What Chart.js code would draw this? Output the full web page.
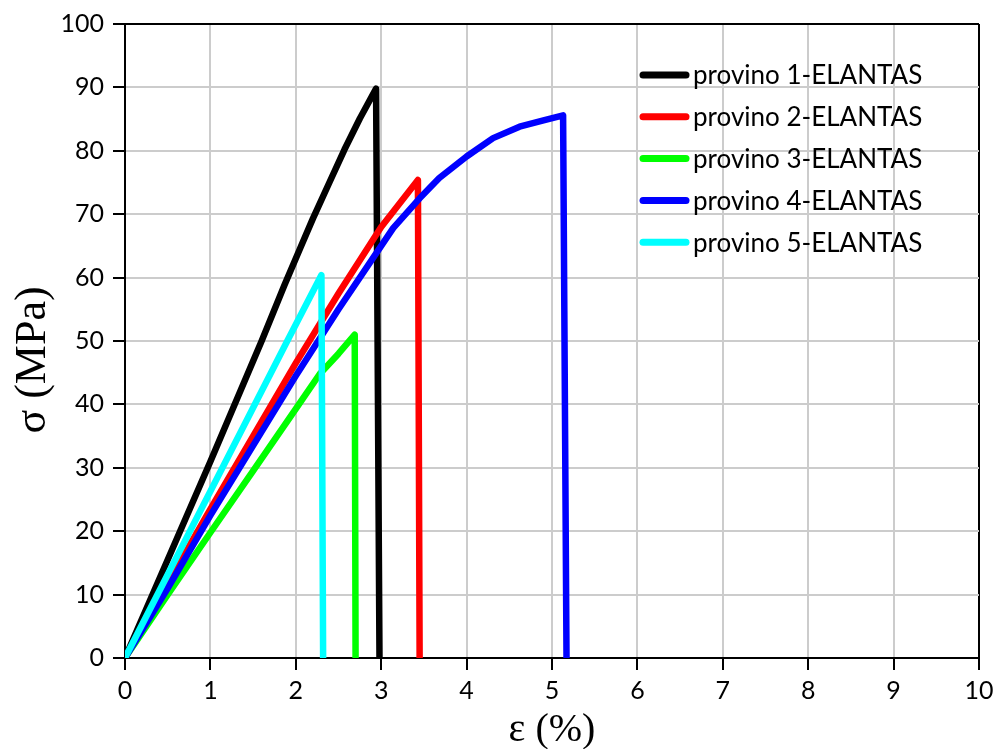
<!DOCTYPE html>
<html>
<head>
<meta charset="utf-8">
<script src="https://cdn.jsdelivr.net/npm/chart.js@4/dist/chart.umd.min.js"></script>
<style>
  html, body { margin: 0; padding: 0; background: #fff; }
  #wrap { width: 1000px; height: 749px; position: relative; }
</style>
</head>
<body>
<div id="wrap"><canvas id="c" width="1000" height="749"></canvas></div>
<script>
// Stress–strain curves, one pair of arrays per specimen
const strain1 = [0, 0.5, 1, 1.6, 1.87, 2.05, 2.2, 2.4, 2.57, 2.75, 2.94, 2.98];
const stress1 = [0, 15.5, 31, 50, 58.9, 64.6, 69.3, 75.2, 80.2, 85.1, 89.8, 0];

const strain2 = [0, 1, 1.5, 2, 2.5, 3, 3.43, 3.45];
const stress2 = [0, 23.5, 35, 46.5, 57.5, 68, 75.4, 0];

const strain3 = [0, 0.5, 1, 1.5, 2, 2.28, 2.5, 2.69, 2.70];
const stress3 = [0, 10, 19.8, 29.5, 39.3, 44.8, 48, 51, 0];

const strain4 = [0, 0.5, 1, 1.5, 2, 2.5, 3, 3.14, 3.45, 3.68, 4, 4.31, 4.62, 4.9, 5.13, 5.17];
const stress4 = [0, 11, 22.5, 33.5, 44.5, 55, 65, 67.8, 72.5, 75.7, 79.1, 82, 83.8, 84.8, 85.6, 0];

const strain5 = [0, 1, 1.9, 2.3, 2.32];
const stress5 = [0, 26.3, 50, 60.4, 0];

const seriesLabels = [
  'provino 1-ELANTAS', 'provino 2-ELANTAS', 'provino 3-ELANTAS',
  'provino 4-ELANTAS', 'provino 5-ELANTAS'
];
const seriesColors = ['#000000', '#ff0000', '#00ff00', '#0000ff', '#00ffff'];
const xTicks = [0, 1, 2, 3, 4, 5, 6, 7, 8, 9, 10];
const yTicks = [0, 10, 20, 30, 40, 50, 60, 70, 80, 90, 100];

const strains = [strain1, strain2, strain3, strain4, strain5];
const stresses = [stress1, stress2, stress3, stress4, stress5];
// drawing order: cyan on top, black at the bottom
const drawOrder = [5, 3, 4, 2, 1];

const datasets = strains.map((xs, i) => ({
  label: seriesLabels[i],
  data: xs.map((x, k) => ({ x: x, y: stresses[i][k] })),
  borderColor: seriesColors[i],
  backgroundColor: seriesColors[i],
  borderWidth: 6.5,
  borderJoinStyle: 'round',
  borderCapStyle: 'round',
  pointRadius: 0,
  tension: 0,
  fill: false,
  order: drawOrder[i]
}));

const tickFont = { family: 'Lato', size: 25 };

// legend drawn inside the plot, plus serif axis titles
const overlay = {
  id: 'overlay',
  afterDraw(chart) {
    const ctx = chart.ctx;
    ctx.save();
    // legend
    ctx.font = '26px Lato';
    ctx.textBaseline = 'middle';
    ctx.textAlign = 'left';
    chart.data.datasets.forEach((ds, i) => {
      const y = 75 + i * 41.8;
      ctx.strokeStyle = ds.borderColor;
      ctx.lineWidth = 7;
      ctx.lineCap = 'round';
      ctx.beginPath();
      ctx.moveTo(643, y);
      ctx.lineTo(686, y);
      ctx.stroke();
      ctx.fillStyle = '#000';
      ctx.fillText(ds.label, 693, y + 1);
    });
    // axis titles
    ctx.fillStyle = '#000';
    ctx.textAlign = 'center';
    ctx.textBaseline = 'middle';
    const a = chart.chartArea;
    ctx.font = '40px "Liberation Serif"';
    ctx.fillText('\u03b5 (%)', (a.left + a.right) / 2, 730);
    ctx.font = '44px "Liberation Serif"';
    ctx.translate(33, 360);
    ctx.rotate(-Math.PI / 2);
    ctx.fillText('\u03c3 (MPa)', 0, 0);
    ctx.restore();
  }
};

const gridColor = (max) => (c) => (c.tick && c.tick.value === max ? '#000' : '#cccccc');

new Chart(document.getElementById('c'), {
  type: 'line',
  data: { datasets: datasets },
  options: {
    responsive: false,
    animation: false,
    layout: { padding: { left: 0, right: 21, top: 22, bottom: 0 } },
    plugins: { legend: { display: false }, tooltip: { enabled: false } },
    scales: {
      x: {
        type: 'linear',
        min: xTicks[0],
        max: xTicks[xTicks.length - 1],
        afterBuildTicks: (s) => { s.ticks = xTicks.map(v => ({ value: v })); },
        afterFit: (s) => { s.height = 91; },
        grid: {
          color: gridColor(10),
          lineWidth: 2,
          drawTicks: true,
          tickLength: 12,
          tickColor: '#000',
          tickWidth: 2
        },
        border: { display: true, color: '#000', width: 2 },
        ticks: { color: '#000', font: tickFont, padding: 6, maxRotation: 0 }
      },
      y: {
        type: 'linear',
        min: yTicks[0],
        max: yTicks[yTicks.length - 1],
        afterBuildTicks: (s) => { s.ticks = yTicks.map(v => ({ value: v })); },
        afterFit: (s) => { s.width = 125; },
        grid: {
          color: gridColor(100),
          lineWidth: 2,
          drawTicks: true,
          tickLength: 12,
          tickColor: '#000',
          tickWidth: 2
        },
        border: { display: true, color: '#000', width: 2 },
        ticks: { color: '#000', font: tickFont, padding: 9 }
      }
    }
  },
  plugins: [overlay]
});
</script>
</body>
</html>
